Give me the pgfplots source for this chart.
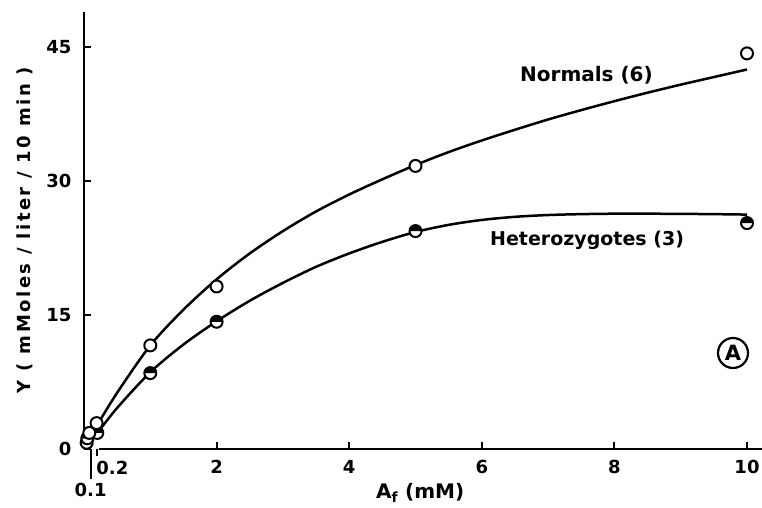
\documentclass[border=0pt]{standalone}
\usepackage{fontspec}
\setmainfont{DejaVu Sans}
\newfontfamily\ylabfont{DejaVu Sans}[LetterSpace=14]
\usepackage{pgfplots}
\pgfplotsset{compat=1.18}
\usetikzlibrary{plotmarks}
\begin{document}
\begin{tikzpicture}
\useasboundingbox (-84pt,-58pt) rectangle (678pt,449pt);
\begin{axis}[
  x=66.3pt, y=8.93pt,
  xmin=0, xmax=10.23, ymin=0, ymax=48.9,
  axis x line*=bottom, axis y line*=left,
  x axis line style={draw=none},
  y axis line style={line width=2pt},
  xtick={2,4,6,8,10}, ytick={0,15,30,45},
  tick align=inside, major tick length=7pt,
  tick style={line width=2pt, black},
  xtick pos=bottom, ytick pos=left,
  font=\bfseries\fontsize{18}{18}\selectfont,
  /pgf/number format/assume math mode=true,
  xticklabel style={yshift=-8pt},
  yticklabel style={xshift=-9pt},
  clip=false,
]
% curves
\addplot[line width=2.5pt, smooth] coordinates {
(0.05,0.7)(0.1,1.5)(0.2,2.7)(0.5,6.3)(1,11.6)(1.5,15.6)(2,19.0)(2.5,21.9)(3,24.4)(3.5,26.6)(4,28.5)(4.5,30.2)(5,31.8)(5.5,33.25)(6,34.55)(6.5,35.75)(7,36.9)(7.5,37.95)(8,38.95)(8.5,39.9)(9,40.8)(9.5,41.65)(10,42.5)};
\addplot[line width=2.5pt, smooth] coordinates {
(0.05,0.5)(0.1,1.0)(0.2,1.8)(0.5,4.6)(1,8.6)(1.5,11.7)(2,14.3)(2.5,16.6)(3,18.6)(3.5,20.4)(4,21.9)(4.5,23.2)(5,24.3)(5.5,25.1)(6,25.65)(6.5,26.0)(7,26.2)(7.5,26.3)(8,26.35)(8.5,26.35)(9,26.33)(9.5,26.3)(10,26.25)};
% markers
\addplot[only marks, mark=halfcircle*, mark size=6pt, mark options={line width=2pt, fill=white, rotate=180}, mark color=black] coordinates {
(0.04,0.7)(0.05,1.2)(0.2,1.8)(1,8.5)(2,14.25)(5,24.4)(10,25.3)};
\addplot[only marks, mark=*, mark size=6pt, mark options={line width=2pt, fill=white, draw=black}] coordinates {
(0.08,1.8)(0.19,2.9)(1,11.6)(2,18.2)(5,31.7)(10,44.3)};
% axis line and special ticks
\draw[line width=2pt] (axis cs:0.22,0) -- (axis cs:10.23,0);
\draw[line width=2pt] (axis cs:0,0) -- ++(4pt,0);
\draw[line width=1.8pt] (axis cs:0.1,0) -- ++(0,-30pt);
\draw[line width=1.8pt] (axis cs:0.2,0) -- ++(0,-7pt);
\node[anchor=north west, inner sep=0pt, font=\bfseries\fontsize{18}{18}\selectfont] at ([xshift=-1pt,yshift=-12pt]axis cs:0.2,0) {0.2};
\node[anchor=north, inner sep=0pt, font=\bfseries\fontsize{18}{18}\selectfont] at ([yshift=-34pt]axis cs:0.1,0) {0.1};
% texts
\node[font=\bfseries\fontsize{20}{20}\selectfont] at ([yshift=-44pt]axis cs:5.07,0) {A\textsubscript{f} (mM)};
\node[rotate=90, font=\ylabfont\bfseries\fontsize{18}{18}\selectfont] at (-59pt,219pt) {Y ( mMoles / liter / 10 min )};
\node[font=\bfseries\fontsize{20}{20}\selectfont, anchor=west, inner sep=0pt] at (436pt,374pt) {Normals (6)};
\node[font=\bfseries\fontsize{19}{19}\selectfont, anchor=west, inner sep=0pt] at (406pt,209pt) {Heterozygotes (3)};
\node[circle, draw, line width=2.2pt, minimum size=30pt, inner sep=0pt, font=\bfseries\fontsize{21}{21}\selectfont] at (649pt,96pt) {A};
\end{axis}
\end{tikzpicture}
\end{document}
